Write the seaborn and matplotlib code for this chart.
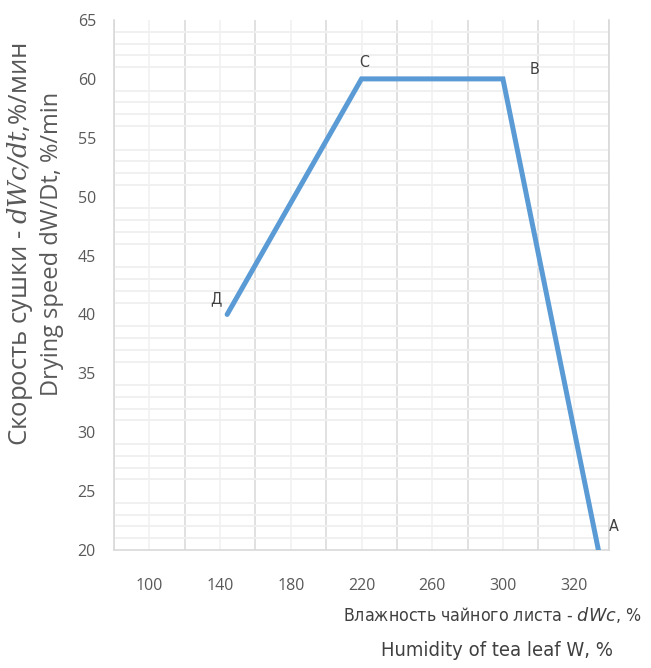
import numpy as np
import pandas as pd
import matplotlib
matplotlib.use("Agg")
import matplotlib.pyplot as plt
import seaborn as sns

# Drying curve points (humidity, drying speed)
point_names = ["Д", "C", "B", "A"]
humidity = [144, 220, 300, 354]
speed = [40, 60, 60, 20]

# Axis ticks
x_tick_pos = [100, 140, 180, 220, 260, 300, 340]
x_tick_labels = ["100", "140", "180", "220", "260", "300", "320"]
y_ticks = [20, 25, 30, 35, 40, 45, 50, 55, 60, 65]

sns.set_style("white")
plt.rcParams["font.family"] = ["Open Sans", "DejaVu Sans"]
plt.rcParams["mathtext.fontset"] = "custom"
plt.rcParams["mathtext.it"] = "DejaVu Sans:italic"
plt.rcParams["mathtext.tt"] = "DejaVu Serif:italic"
plt.rcParams["mathtext.rm"] = "DejaVu Sans"

df = pd.DataFrame({"humidity": humidity, "speed": speed, "name": point_names})

fig = plt.figure(figsize=(6.51, 6.68), dpi=100)
ax = fig.add_axes([114 / 651, 1 - 550 / 668, (609 - 114) / 651, (550 - 20) / 668])

sns.lineplot(data=df, x="humidity", y="speed", sort=False, ax=ax,
             color="#5B9BD5", linewidth=3.6, solid_capstyle="round",
             solid_joinstyle="miter", zorder=5)

ax.set_xlim(80, 360)
ax.set_ylim(20, 65)

# vertical grid: major lines between labels, lighter ones at label positions
ax.set_xticks(np.arange(80, 361, 40))
ax.set_xticklabels([])
ax.set_xticks(x_tick_pos, minor=True)
ax.set_xticklabels(x_tick_labels, minor=True)
ax.grid(True, axis="x", which="major", color="#d9d9d9", linewidth=1.1)
ax.grid(True, axis="x", which="minor", color="#f0f0f0", linewidth=1.1)

# horizontal grid: light lines every unit except the labelled values
ax.set_yticks(y_ticks)
ax.set_yticks([v for v in range(21, 65) if v % 5 != 0], minor=True)
ax.grid(False, axis="y", which="major")
ax.grid(True, axis="y", which="minor", color="#f0f0f0", linewidth=1.4)

ax.tick_params(axis="both", which="both", length=0)
ax.tick_params(axis="y", which="major", pad=13, labelsize=11.5, labelcolor="#595959")
ax.tick_params(axis="x", which="minor", pad=20, labelsize=11.5, labelcolor="#595959")

ax.spines["top"].set_visible(False)
for side in ["left", "bottom", "right"]:
    ax.spines[side].set_color("#d9d9d9")
    ax.spines[side].set_linewidth(1.2)

ax.set_xlabel("")
ax.set_ylabel("")

# point letters
offsets = {"Д": (-8, 11), "C": (2, 12), "B": (23, 7), "A": (11, 17)}
for n, x, y in zip(point_names, humidity, speed):
    ax.annotate(n, (x, y), xytext=offsets[n], textcoords="offset points",
                ha="center", va="center", fontsize=11.5, color="#404040",
                family="DejaVu Sans", fontstretch="condensed", zorder=6,
                annotation_clip=False)

# axis titles
fig.text(20 / 651, 1 - 244 / 668, "Скорость сушки - $\\mathtt{dWc/dt}$,%/мин",
         rotation=90, ha="center", va="center", fontsize=18.5, color="#595959")
fig.text(52 / 651, 1 - 244 / 668, "Drying speed dW/Dt, %/min",
         rotation=90, ha="center", va="center", fontsize=17, color="#595959")
fig.text(492 / 651, 1 - 615 / 668, "Влажность чайного листа - $dWc$, %",
         ha="center", va="center", fontsize=12.7, color="#404040",
         family="DejaVu Sans", fontstretch="condensed")
fig.text(497 / 651, 1 - 651 / 668, "Humidity of tea leaf W, %",
         ha="center", va="center", fontsize=14.5, color="#404040",
         family="DejaVu Sans", fontstretch="condensed")

fig.savefig("out.png", dpi=100)
